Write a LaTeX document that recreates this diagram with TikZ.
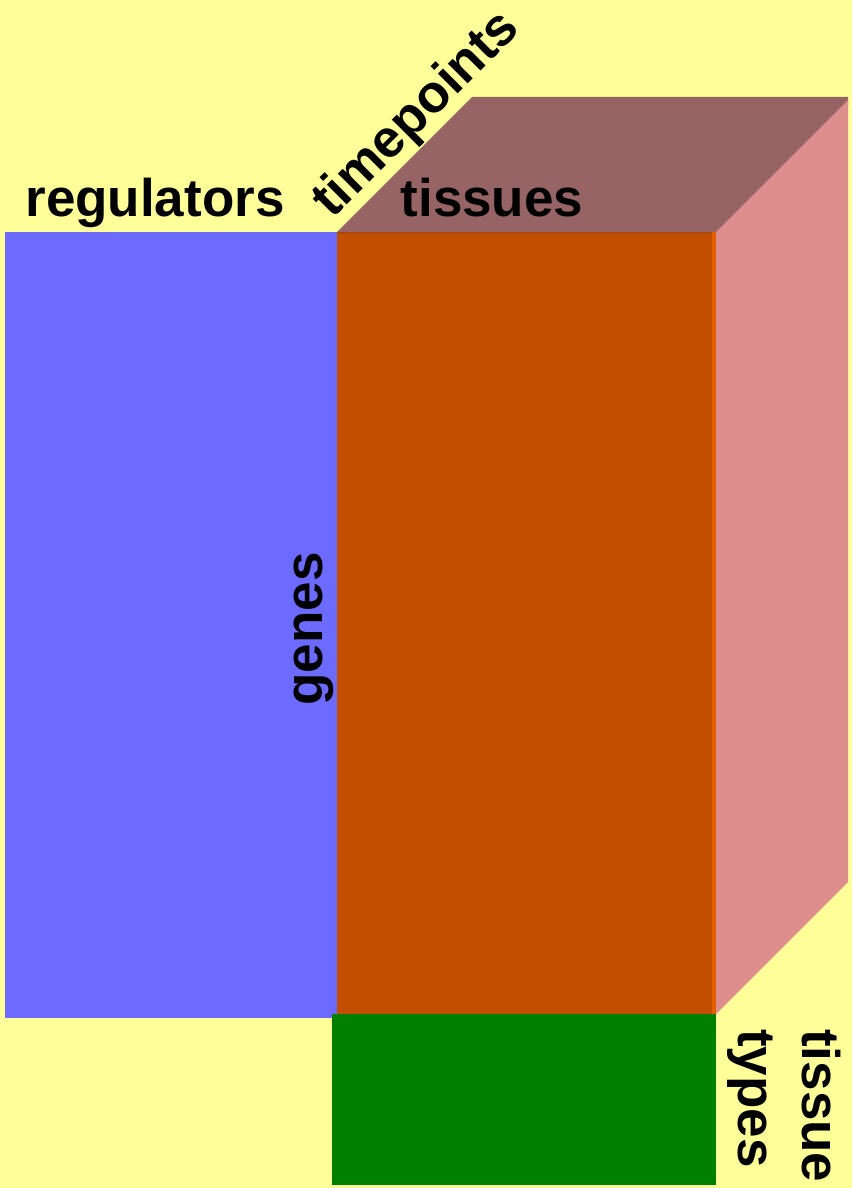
\documentclass[tikz,border=0pt]{standalone}
\usepackage{fontspec}
\setmainfont{Liberation Sans}
\definecolor{bgyellow}{HTML}{FFFF99}
\definecolor{bluefc}{HTML}{6D6AFF}
\definecolor{frontfc}{HTML}{C24E00}
\definecolor{stripefc}{HTML}{E35F00}
\definecolor{topfc}{HTML}{966464}
\definecolor{sidefc}{HTML}{DF8E8E}
\definecolor{greenfc}{HTML}{008000}
\begin{document}
\begin{tikzpicture}[x=1pt,y=-1pt,
  lbl/.style={font=\bfseries\fontsize{53}{60}\selectfont, inner sep=0pt, text=black}]
\fill[bgyellow] (0,0) rectangle (852,1188);
\useasboundingbox (0,0) rectangle (852,1188);
% blue matrix
\fill[bluefc] (5,232) rectangle (338,1018);
% front face
\fill[frontfc] (337,232) rectangle (716,1014);
\fill[stripefc] (712,232) rectangle (716,1014);
\fill[frontfc!90!black] (337,232) rectangle (712,234);
% top face (extends under the side face to avoid a seam)
\fill[topfc] (337,232) -- (472,97) -- (848,97) -- (848,106) -- (722,232) -- cycle;
% side face
\fill[sidefc] (716,232) -- (848,100) -- (848,882) -- (716,1014) -- cycle;
% green block
\fill[greenfc] (332,1014) rectangle (716,1185);
% labels
\node[lbl, anchor=base] (reg) at (155,216) {regulators};
\node[lbl, anchor=base] (tis) at (492,216) {tissues};
\node[lbl, anchor=base, rotate=45] (tp) at (427,125) {timepoints};
\node[lbl, anchor=base, rotate=90] (gen) at (322,629) {genes};
\node[lbl, anchor=base west, rotate=-90] (tt1) at (802,1029) {tissue};
\node[lbl, anchor=base west, rotate=-90] (tt2) at (738,1029) {types};
\end{tikzpicture}
\end{document}
